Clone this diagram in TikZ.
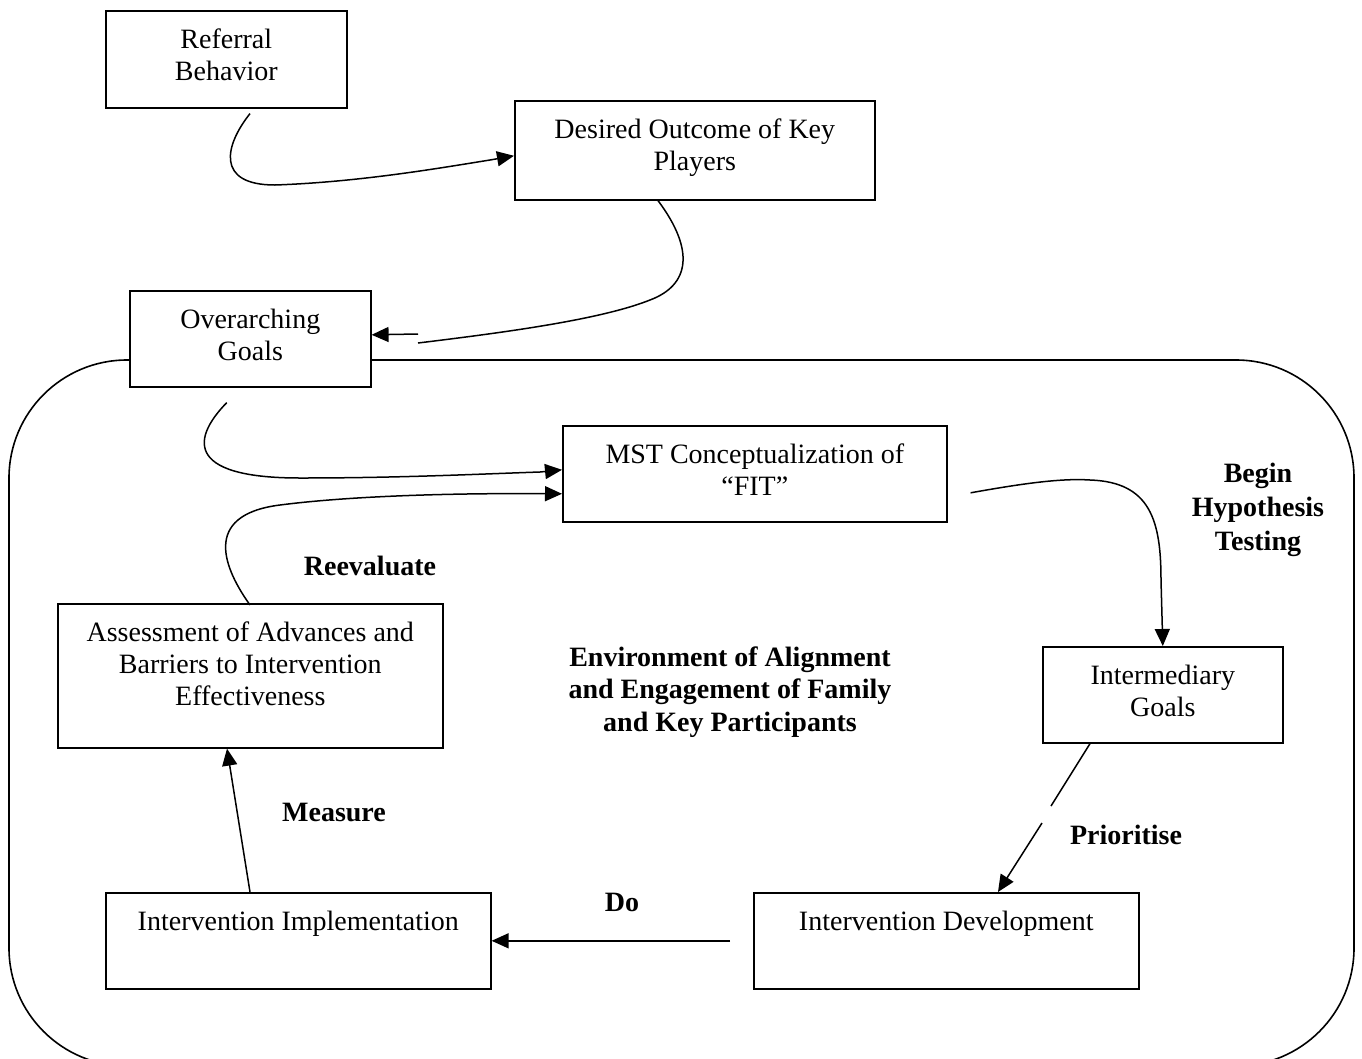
\documentclass[tikz,border=0pt]{standalone}
\usepackage{fontspec}
\setmainfont{Liberation Serif}
\usetikzlibrary{calc,arrows.meta}
\begin{document}
\begin{tikzpicture}[x=1pt,y=-1pt,
  box/.style={draw, line width=1.6pt, fill=white, anchor=north west, inner sep=0pt},
  txt/.style={align=center, inner sep=0pt, anchor=north, font=\fontsize{28}{32}\selectfont},
  lbl/.style={align=center, inner sep=0pt, font=\fontsize{28}{33}\selectfont\bfseries},
  conn/.style={line width=1.5pt},
  arr/.style={line width=1.5pt, -{Triangle[length=17pt,width=15pt]}}
]
\clip (0,0) rectangle (1362,1058);
\draw[line width=1.6pt, rounded corners=118pt] (9,360) rectangle (1354,1066);

% boxes
\node[box, minimum width=241pt, minimum height=97pt] (ref) at (105,10) {};
\node[box, minimum width=360pt, minimum height=99pt] (des) at (514,100) {};
\node[box, minimum width=241pt, minimum height=96pt] (ovr) at (129,290) {};
\node[box, minimum width=384pt, minimum height=96pt] (mst) at (562,425) {};
\node[box, minimum width=385pt, minimum height=144pt] (ass) at (57,603) {};
\node[box, minimum width=240pt, minimum height=96pt] (inm) at (1042,646) {};
\node[box, minimum width=385pt, minimum height=96pt] (imp) at (105,892) {};
\node[box, minimum width=385pt, minimum height=96pt] (dev) at (753,892) {};

% box texts
\node[txt] (tref) at ($(ref.north)+(0,19)$) {Referral\\Behavior};
\node[txt] (tdes) at ($(des.north)+(0,19)$) {Desired Outcome of Key\\Players};
\node[txt] (tovr) at ($(ovr.north)+(0,19)$) {Overarching\\Goals};
\node[txt] (tmst) at ($(mst.north)+(0,19)$) {MST Conceptualization of\\“FIT”};
\node[txt] (tass) at ($(ass.north)+(0,19)$) {Assessment of Advances and\\Barriers to Intervention\\Effectiveness};
\node[txt] (tinm) at ($(inm.north)+(0,19)$) {Intermediary\\Goals};
\node[txt] (timp) at ($(imp.north)+(0,19)$) {Intervention Implementation};
\node[txt] (tdev) at ($(dev.north)+(0,19)$) {Intervention Development};

% labels
\node[lbl] (lre) at (370,566) {Reevaluate};
\node[lbl, font=\fontsize{28}{34}\selectfont\bfseries] (lbh) at (1258,510) {Begin\\Hypothesis\\Testing};
\node[lbl, font=\fontsize{28}{32.5}\selectfont\bfseries] (lenv) at (730,692) {Environment of Alignment\\and Engagement of Family\\and Key Participants};
\node[lbl] (lme) at (334,812) {Measure};
\node[lbl] (lpr) at (1126,835) {Prioritise};
\node[lbl] (ldo) at (622,902) {Do};

% connectors
\draw[arr] ($(ref.south west)+(145,5)$) .. controls (225,145) and (215,185) .. (275,185)
  .. controls (360,182) and (440,168) .. (490,160) -- ($(des.west)+(0,5.5)$);

\draw[conn] ($(des.south west)+(144,0)$) .. controls (695,250) and (690,285) .. (650,300)
  .. controls (600,320) and (500,333) .. (418,343);
\draw[arr] (418,334) -- ($(ovr.east)+(0,-4)$);

\draw[arr] ($(ovr.south)+(-23.5,15)$) .. controls (195,435) and (180,478) .. (300,478)
  .. controls (400,478) and (480,474) .. (540,472) -- ($(mst.west)+(0,-4)$);

\draw[arr] ($(ass.north west)+(193,2)$) .. controls (225,570) and (200,515) .. (280,505)
  .. controls (350,496) and (450,493) .. ($(mst.west)+(0,20)$);

\draw[arr] ($(mst.east)+(23,19)$) .. controls (1020,484) and (1060,478) .. (1090,480)
  .. controls (1150,482) and (1161,520) .. (1161,580) -- (inm.north);

\coordinate (g1) at (1051,806);
\coordinate (g2) at (1042,823);
\draw[conn] ($(inm.south west)+(48,0)$) -- (g1);
\draw[arr] (g2) -- ($(dev.north west)+(245,0)$);

\draw[arr] ($(dev.west)+(-23,0)$) -- (imp.east);

\draw[arr] ($(imp.north west)+(145,0)$) -- ($(ass.south west)+(170,0)$);
\end{tikzpicture}
\end{document}
